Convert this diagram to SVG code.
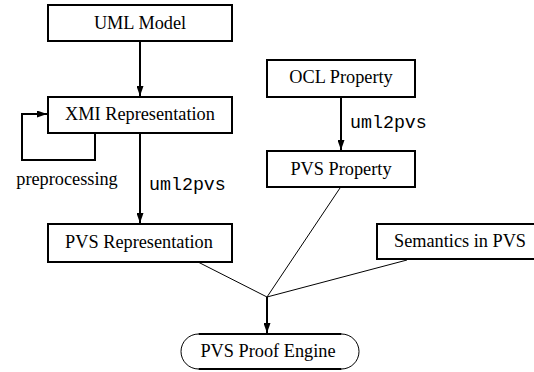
<svg xmlns="http://www.w3.org/2000/svg" width="534" height="372" viewBox="0 0 534 372">
<style>
.box{fill:#fff;stroke:#000;stroke-width:2}
.t{font-family:"Liberation Serif","Times New Roman",serif;font-size:18.3px;fill:#000;text-anchor:middle}
.m{font-family:"Liberation Mono","Courier New",monospace;font-size:18.3px;fill:#000}
.thick{fill:none;stroke:#000;stroke-width:2}
.thin{fill:none;stroke:#000;stroke-width:1}
</style>
<defs>
<marker id="ah" markerUnits="userSpaceOnUse" viewBox="0 0 10 7" refX="10" refY="3.5" markerWidth="10" markerHeight="7" orient="auto">
<path d="M0,0 L10,3.5 L0,7 z" fill="#000"/>
</marker>
</defs>
<rect width="534" height="372" fill="#fff"/>
<g id="connectors">
<line class="thick" x1="140" y1="41" x2="140" y2="96" marker-end="url(#ah)"/>
<path class="thick" d="M95,133 V160 H22 V114 H47" marker-end="url(#ah)"/>
<line class="thick" x1="140" y1="133" x2="140" y2="223" marker-end="url(#ah)"/>
<line class="thick" x1="341" y1="97" x2="341" y2="150" marker-end="url(#ah)"/>
<line class="thin" x1="198" y1="262" x2="267" y2="297"/>
<line class="thin" x1="340" y1="188" x2="267" y2="297"/>
<line class="thin" x1="407" y1="260" x2="267" y2="297"/>
<line class="thick" x1="267" y1="297" x2="267" y2="333" marker-end="url(#ah)"/>
<text class="t" x="67" y="185">preprocessing</text>
<text class="m" x="149" y="190">uml2pvs</text>
<text class="m" x="350" y="128">uml2pvs</text>
</g>
<g id="uml-model">
<rect class="box" x="48" y="5" width="184" height="36"/>
<text class="t" x="140" y="29">UML Model</text>
</g>
<g id="xmi-representation">
<rect class="box" x="48" y="97" width="184" height="36"/>
<text class="t" x="140" y="120">XMI Representation</text>
</g>
<g id="pvs-representation">
<rect class="box" x="48" y="224" width="184" height="38"/>
<text class="t" x="139" y="248">PVS Representation</text>
</g>
<g id="ocl-property">
<rect class="box" x="267" y="60" width="148" height="37"/>
<text class="t" x="341" y="83">OCL Property</text>
</g>
<g id="pvs-property">
<rect class="box" x="267" y="151" width="148" height="36"/>
<text class="t" x="341" y="175">PVS Property</text>
</g>
<g id="semantics-in-pvs">
<rect class="box" x="377" y="224" width="170" height="35"/>
<text class="t" x="460" y="247">Semantics in PVS</text>
</g>
<g id="pvs-proof-engine">
<rect x="181" y="334" width="178" height="35" rx="17.5" fill="#fff" stroke="none"/>
<path class="thin" d="M198.5,334 A17.5,17.5 0 0 0 198.5,369 M341.5,334 A17.5,17.5 0 0 1 341.5,369"/>
<path class="thick" d="M198.5,334 H341.5 M198.5,369 H341.5"/>
<text class="t" x="268" y="357">PVS Proof Engine</text>
</g>
</svg>
